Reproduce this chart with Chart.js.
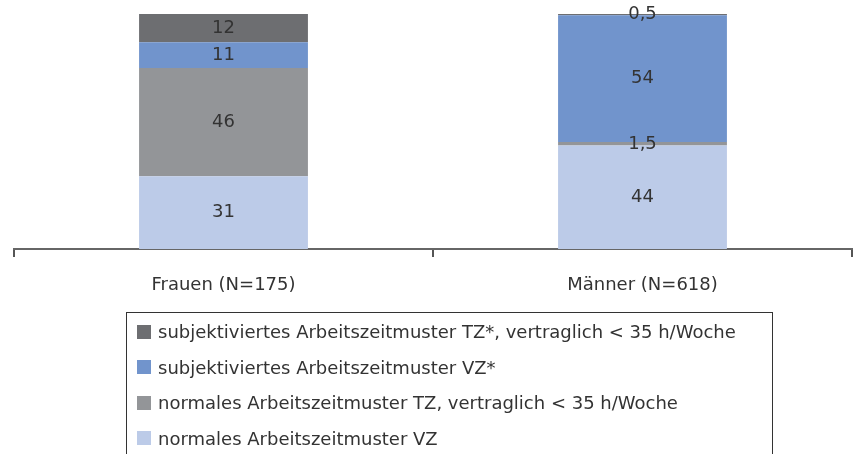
<!DOCTYPE html>
<html>
<head>
<meta charset="utf-8">
<script src="https://cdn.jsdelivr.net/npm/chart.js@4.4.1/dist/chart.umd.min.js"></script>
<style>
  body { margin: 0; background: #fff; font-family: 'DejaVu Sans', sans-serif; }
  #wrap { position: relative; width: 853px; height: 454px; overflow: hidden; }
  #legend {
    position: absolute; left: 126px; top: 312px; width: 647px; height: 160px;
    border: 1.5px solid #333; box-sizing: border-box; padding-top: 1px;
  }
  .item { height: 35.5px; display: flex; align-items: center; font-size: 18px; color: #333; }
  .box { width: 14px; height: 14px; margin-left: 10px; margin-right: 7px; }
</style>
</head>
<body>
<div id="wrap">
  <canvas id="chart" width="853" height="454"></canvas>
  <div id="legend"></div>
</div>
<script>
const categories = ['Frauen (N=175)', 'Männer (N=618)'];

const seriesNames = [
  'normales Arbeitszeitmuster VZ',
  'normales Arbeitszeitmuster TZ, vertraglich < 35 h/Woche',
  'subjektiviertes Arbeitszeitmuster VZ*',
  'subjektiviertes Arbeitszeitmuster TZ*, vertraglich < 35 h/Woche'
];
const normalVZ = [31, 44];
const normalTZ = [46, 1.5];
const subjVZ = [11, 54];
const subjTZ = [12, 0.5];

const colors = ['#bccbe8', '#939598', '#7194cc', '#6d6e71'];
const seriesValues = [normalVZ, normalTZ, subjVZ, subjTZ];

const datasets = seriesValues.map((vals, i) => ({
  label: seriesNames[i],
  data: vals,
  backgroundColor: colors[i],
  borderWidth: 0,
  barPercentage: 0.806,
  categoryPercentage: 0.5
}));

// value labels in the middle of each segment
const valueLabels = {
  id: 'valueLabels',
  afterDatasetsDraw(chart) {
    const ctx = chart.ctx;
    ctx.save();
    ctx.font = '18px "DejaVu Sans"';
    ctx.fillStyle = '#333';
    ctx.textAlign = 'center';
    ctx.textBaseline = 'middle';
    chart.data.datasets.forEach((ds, i) => {
      chart.getDatasetMeta(i).data.forEach((bar, j) => {
        const y = (bar.y + bar.base) / 2;
        ctx.fillText(String(ds.data[j]).replace('.', ','), bar.x, y);
      });
    });
    ctx.restore();
  }
};

new Chart(document.getElementById('chart'), {
  type: 'bar',
  data: { labels: categories, datasets: datasets },
  options: {
    responsive: false,
    animation: false,
    layout: { padding: { left: 14, right: 1, top: 14, bottom: 0 } },
    scales: {
      x: {
        stacked: true,
        afterFit: (scale) => { scale.height = 454 - 14 - 235; },
        grid: {
          offset: true, drawOnChartArea: false, drawTicks: true,
          tickLength: 8, lineWidth: 2,
          color: (c) => c.index >= categories.length ? '#e4e4e4' : '#555'
        },
        border: { color: '#666', width: 2 },
        ticks: { color: '#333', font: { family: 'DejaVu Sans', size: 18 }, padding: 18 }
      },
      y: {
        stacked: true, display: false, min: 0, max: 100
      }
    },
    plugins: {
      legend: { display: false },
      tooltip: { enabled: false }
    }
  },
  plugins: [valueLabels]
});

// legend, top series first
const legend = document.getElementById('legend');
for (let i = seriesNames.length - 1; i >= 0; i--) {
  const row = document.createElement('div');
  row.className = 'item';
  const sw = document.createElement('span');
  sw.className = 'box';
  sw.style.background = colors[i];
  const tx = document.createElement('span');
  tx.textContent = seriesNames[i];
  row.appendChild(sw);
  row.appendChild(tx);
  legend.appendChild(row);
}
</script>
</body>
</html>
